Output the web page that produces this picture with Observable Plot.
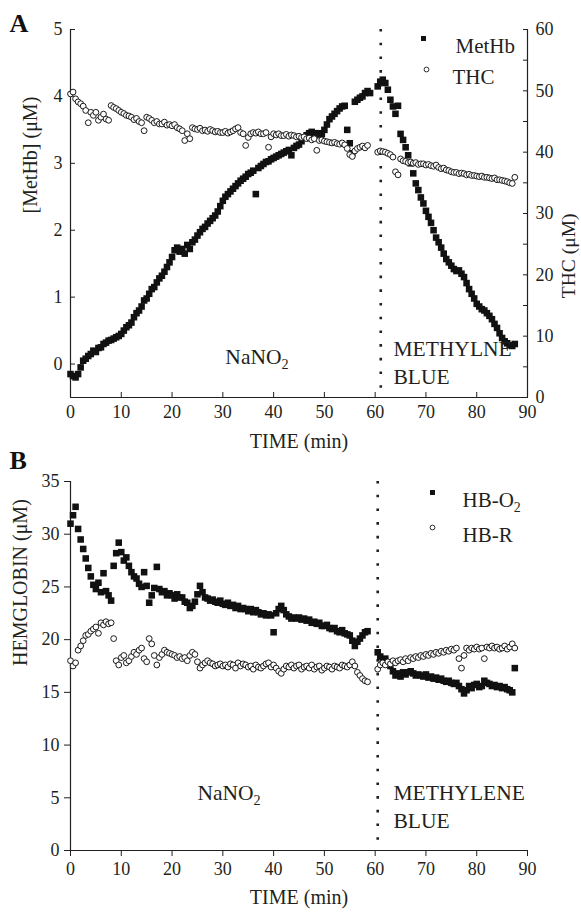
<!DOCTYPE html>
<html>
<head>
<meta charset="utf-8">
<script src="https://cdn.jsdelivr.net/npm/d3@7"></script>
<script src="https://cdn.jsdelivr.net/npm/@observablehq/plot@0.6"></script>
<style>
  html, body { margin: 0; padding: 0; background: #fff; }
  #root { position: relative; width: 581px; height: 914px; overflow: hidden; }
  .layer { position: absolute; left: 0; }
</style>
</head>
<body>
<div id="root"></div>
<script>
// ---------------- DATA ----------------
const STEP = 0.5;                 // sampling interval of the recordings (min)
const xTicks = [0, 10, 20, 30, 40, 50, 60, 70, 80, 90];
const metTicks = [0, 1, 2, 3, 4, 5];
const thcTicks = [0, 10, 20, 30, 40, 50, 60];
const thcMinorTicks = [5, 15, 25, 35, 45, 55];
const hbTicks = [0, 5, 10, 15, 20, 25, 30, 35];

const methyleneA = [61.1];        // time of methylene blue injection (panel A)
const methyleneB = [60.5];        // (panel B)

// Panel A — MetHb (µM), NaNO2 phase starting t=0, methylene blue phase starting t=60.5
const metHb1Start = 0;
const metHb1 = [
  -0.15,-0.18,-0.2,-0.15,-0.05,0.05,0.08,0.12,0.15,0.2,
  0.18,0.24,0.25,0.3,0.32,0.35,0.36,0.38,0.4,0.42,
  0.45,0.5,0.55,0.58,0.62,0.7,0.76,0.8,0.86,0.95,
  0.98,1.05,1.12,1.15,1.22,1.28,1.32,1.38,1.45,1.52,
  1.6,1.7,1.74,1.68,1.72,1.65,1.78,1.72,1.82,1.86,
  1.92,1.97,2.02,2.05,2.1,2.14,2.18,2.22,2.28,2.36,
  2.44,2.5,2.54,2.58,2.62,2.66,2.7,2.74,2.77,2.8,
  2.84,2.86,2.89,2.54,2.93,2.96,2.99,3.02,3.03,3.06,
  3.08,3.1,3.12,3.14,3.16,3.18,3.2,3.12,3.23,3.26,
  3.28,3.33,3.38,3.42,3.45,3.47,3.45,3.4,3.45,3.44,
  3.5,3.58,3.66,3.7,3.74,3.78,3.82,3.85,3.86,3.5,
  3.3,3.15,3.92,3.95,3.98,4.0,4.05,4.08,4.05
];
const metHb2Start = 60.5;
const metHb2 = [
  4.15,4.22,4.25,4.2,4.1,3.95,3.85,3.74,3.86,3.44,
  3.35,3.24,3.12,3.0,2.85,2.7,2.6,2.49,2.4,2.29,
  2.2,2.11,2.0,1.89,1.82,1.74,1.65,1.57,1.52,1.47,
  1.42,1.39,1.4,1.35,1.3,1.21,1.12,1.05,0.98,0.9,
  0.86,0.82,0.8,0.76,0.72,0.67,0.6,0.54,0.46,0.39,
  0.34,0.31,0.28,0.27,0.3
];

// Panel A — THC (µM), right axis
const thc1Start = 0;
const thc1 = [
  49.5,49.8,48.7,48.2,47.9,47.5,46.8,44.8,46.5,46.0,
  46.5,45.2,45.7,46.2,45.4,45.2,47.6,47.3,47.1,46.8,
  46.5,46.3,46.0,45.9,45.7,45.3,45.5,45.0,44.8,43.5,
  45.7,45.5,45.2,44.8,45.0,44.6,44.6,44.9,44.4,44.5,
  44.3,44.5,44.0,43.8,43.5,41.9,43.0,42.2,44.0,43.8,
  43.7,43.9,43.5,43.6,43.4,43.7,43.5,43.3,43.4,43.2,
  43.2,43.4,43.1,43.3,43.5,43.8,44.0,43.2,43.0,41.1,
  42.4,43.0,43.2,43.1,43.3,43.0,43.0,43.2,40.8,42.5,
  43.0,42.8,43.0,42.7,42.7,42.9,42.6,42.8,42.7,42.5,
  42.6,42.4,42.5,42.2,42.3,42.0,42.2,40.3,41.9,42.0,
  41.8,41.7,41.6,41.5,41.6,41.4,41.3,41.5,41.2,40.6,
  39.6,39.3,40.2,40.6,40.8,41.0,40.7,41.1
];
const thc2Start = 60.5;
const thc2 = [
  40.0,40.2,40.1,40.0,39.8,39.6,39.2,36.8,36.3,38.9,
  38.6,38.5,38.3,38.4,38.2,38.3,38.0,38.1,38.1,37.9,
  38.0,37.8,37.7,37.9,37.5,37.3,37.4,37.1,37.0,36.8,
  36.7,36.7,36.5,36.6,36.5,36.3,36.4,36.2,36.2,36.1,
  36.0,36.1,35.9,35.9,35.8,35.7,35.8,35.5,35.5,35.4,
  35.3,35.2,35.0,34.9,35.9
];

// Panel B — HB-O2 (µM)
const hbO2_1Start = 0;
const hbO2_1 = [
  31.0,31.8,32.6,30.5,29.5,28.6,27.7,26.8,26.0,25.2,
  24.8,25.4,24.5,26.3,24.6,24.2,23.7,27.0,28.2,29.2,
  28.3,27.5,27.8,27.0,26.4,26.0,25.8,25.3,25.0,26.4,
  25.1,23.5,24.2,24.9,26.9,24.8,24.5,24.6,24.2,24.4,
  24.2,23.9,24.3,24.0,24.0,23.6,23.5,23.0,23.2,23.6,
  24.3,25.1,24.5,24.0,23.9,23.7,23.8,23.6,23.5,23.7,
  23.4,23.3,23.5,23.2,23.3,23.0,23.2,22.9,23.0,22.9,
  22.7,22.9,22.6,22.8,22.6,22.4,22.5,22.3,22.4,22.3,
  20.7,22.5,22.9,23.2,22.8,22.4,22.2,22.0,22.1,22.0,
  22.1,21.9,22.0,21.8,21.9,21.6,21.7,21.5,21.6,21.3,
  21.3,21.4,21.1,21.0,21.1,20.8,20.7,20.9,20.6,20.5,
  20.4,19.9,19.4,19.8,20.1,20.4,20.7,20.8
];
const hbO2_2Start = 60.5;
const hbO2_2 = [
  18.8,18.4,18.0,18.2,17.8,17.5,17.0,16.6,16.8,16.5,
  16.9,16.7,16.9,17.0,16.8,16.6,16.7,16.6,16.5,16.7,
  16.4,16.5,16.3,16.4,16.2,16.3,16.1,16.0,16.1,15.9,
  15.8,15.9,15.6,15.3,14.9,15.2,15.6,15.4,15.7,15.8,
  15.5,15.6,16.1,15.9,15.8,15.6,15.7,15.5,15.6,15.4,
  15.5,15.3,15.2,15.0,17.3
];

// Panel B — HB-R (µM)
const hbR_1Start = 0;
const hbR_1 = [
  18.0,17.5,17.8,19.0,19.4,19.9,20.4,20.5,20.8,21.0,
  21.2,20.6,21.6,21.4,21.7,21.5,21.6,20.1,18.0,17.6,
  18.3,18.5,17.8,18.0,18.4,18.8,18.6,19.0,19.2,18.2,
  17.9,20.1,19.6,18.5,17.6,18.3,18.6,19.0,18.8,18.7,
  18.6,18.5,18.3,18.4,18.2,18.3,18.0,18.5,18.8,18.6,
  17.9,17.3,17.6,17.8,18.0,17.8,17.7,17.5,17.6,17.7,
  17.5,17.6,17.4,17.7,17.6,17.3,17.8,17.5,17.7,17.6,
  17.4,17.5,17.2,17.6,17.4,17.3,17.5,17.7,17.8,17.4,
  17.6,17.3,17.0,16.8,17.2,17.5,17.4,17.6,17.3,17.5,
  17.6,17.2,17.4,17.5,17.3,17.6,17.2,17.4,17.5,17.1,
  17.3,17.5,17.4,17.2,17.5,17.4,17.3,17.6,17.5,17.4,
  17.6,17.9,17.5,16.9,16.6,16.3,16.1,16.0
];
const hbR_2Start = 60.5;
const hbR_2 = [
  17.2,17.6,17.8,17.6,17.9,17.7,18.0,17.8,18.0,18.1,
  17.9,18.2,18.0,18.3,18.2,18.4,18.3,18.5,18.4,18.6,
  18.5,18.7,18.6,18.8,18.7,18.9,18.8,19.0,18.9,19.1,
  19.0,19.2,18.2,17.3,18.5,19.2,19.0,19.2,19.1,19.3,
  19.1,19.2,18.2,19.3,19.2,19.4,19.2,19.3,19.1,19.2,
  19.4,19.1,19.3,19.6,19.2
];

// Text content
const legendA = ["MetHb", "THC"];
const legendB = ["HB-O_2", "HB-R"];
const phaseLabelsA = [
  {t: 30.5, v: 0.0, label: "NaNO_2"},
  {t: 63.6, v: -0.3, label: "METHYLNE\nBLUE"}
];
const phaseLabelsB = [
  {t: 25.0, v: 4.75, label: "NaNO_2"},
  {t: 63.6, v: 2.1, label: "METHYLENE\nBLUE"}
];

// ---------------- BUILD ----------------
const rows = (start, values) => values.map((v, i) => ({t: start + i * STEP, v}));
const metRows = [...rows(metHb1Start, metHb1), ...rows(metHb2Start, metHb2)];
const thcRows = [...rows(thc1Start, thc1), ...rows(thc2Start, thc2)];
const o2Rows = [...rows(hbO2_1Start, hbO2_1), ...rows(hbO2_2Start, hbO2_2)];
const rRows = [...rows(hbR_1Start, hbR_1), ...rows(hbR_2Start, hbR_2)];

const FONT = "'Liberation Serif', 'Times New Roman', serif";
const INK = "#231f20";
const W = 581;
const M = {left: 70, right: 54};
const TICK_FS = 18;
const sq = {symbol: "square", r: 3.7, fill: "#111", stroke: "none"};
const ci = {r: 2.9, fill: "white", stroke: "#1a1a1a", strokeWidth: 1};
const sqLegend = {symbol: "square", r: 2.8, fill: "#111", stroke: "none"};
const ciLegend = {r: 2.4, fill: "white", stroke: "#1a1a1a", strokeWidth: 0.9};
const dotted = {stroke: INK, strokeWidth: 2.6, strokeDasharray: "2.6,11.1"};
const fmt = d => String(d);

function subscripts(svg) {
  svg.querySelectorAll("text").forEach(t => {
    if (t.childElementCount === 0 && t.textContent.includes("_2")) {
      const [a, b] = t.textContent.split("_2");
      t.textContent = a;
      const ts = document.createElementNS("http://www.w3.org/2000/svg", "tspan");
      ts.setAttribute("dy", "0.32em");
      ts.setAttribute("font-size", "0.66em");
      ts.textContent = "2";
      t.appendChild(ts);
      if (b) {
        const ts2 = document.createElementNS("http://www.w3.org/2000/svg", "tspan");
        ts2.setAttribute("dy", "-0.21em");
        ts2.textContent = b;
        t.appendChild(ts2);
      }
    }
  });
}

function place(svg, top) {
  svg.classList.add("layer");
  svg.style.top = top + "px";
  subscripts(svg);
  document.getElementById("root").appendChild(svg);
}

// ---- Panel A, MetHb (left scale) ----
const HA = 455;
const a1 = Plot.plot({
  width: W, height: HA, marginLeft: M.left, marginRight: M.right, marginTop: 29, marginBottom: 58,
  style: {fontFamily: FONT, fontSize: TICK_FS + "px", color: INK, background: "white", overflow: "visible"},
  x: {domain: [0, 90], axis: null},
  y: {domain: [-0.5, 5], axis: null},
  marks: [
    Plot.ruleX([0], {stroke: INK, strokeWidth: 1.2}),
    Plot.ruleY([-0.5], {stroke: INK, strokeWidth: 1.2}),
    Plot.axisX({ticks: xTicks, tickSize: -5, tickPadding: 13, tickFormat: fmt, label: null, fontSize: TICK_FS}),
    Plot.axisY({ticks: metTicks, tickSize: -5, tickPadding: 13, tickFormat: fmt, label: null, fontSize: TICK_FS}),
    Plot.ruleX(methyleneA, dotted),
    Plot.dot(metRows, {x: "t", y: "v", ...sq}),
    Plot.text(phaseLabelsA, {x: "t", y: "v", text: "label", textAnchor: "start", lineAnchor: "bottom", lineHeight: 1.3, fontSize: 21.5, fill: INK}),
    Plot.text(["[MetHb] (μM)"], {text: d => d, frameAnchor: "left", rotate: -90, dx: -40, fontSize: 20, fill: INK}),
    Plot.text(["TIME (min)"], {text: d => d, frameAnchor: "bottom", dy: 50, fontSize: 20, fill: INK}),
    Plot.text(["A"], {text: d => d, frameAnchor: "top-left", dx: -61, dy: -6, textAnchor: "start", lineAnchor: "middle", fontSize: 26, fontWeight: "bold", fill: "#111"})
  ]
});
place(a1, 0);

// ---- Panel A, THC (right scale) overlay ----
const a2 = Plot.plot({
  width: W, height: HA, marginLeft: M.left, marginRight: M.right, marginTop: 29, marginBottom: 58,
  style: {fontFamily: FONT, fontSize: TICK_FS + "px", color: INK, background: "transparent", overflow: "visible"},
  x: {domain: [0, 90], axis: null},
  y: {domain: [0, 60], axis: null},
  marks: [
    Plot.ruleX([90], {stroke: INK, strokeWidth: 1.2}),
    Plot.axisY({anchor: "right", ticks: thcTicks, tickSize: -5, tickPadding: 13, tickFormat: fmt, label: null, fontSize: TICK_FS}),
    Plot.axisY({anchor: "right", ticks: thcMinorTicks, tickSize: -5, tickFormat: () => "", label: null}),
    Plot.dot(thcRows, {x: "t", y: "v", ...ci}),
    Plot.text(["THC (μM)"], {text: d => d, frameAnchor: "right", rotate: -90, dx: 41, fontSize: 19.5, fill: INK}),
    Plot.dot(legendA.slice(0, 1), {frameAnchor: "top-left", dx: 353, dy: 9, ...sqLegend}),
    Plot.dot(legendA.slice(1, 2), {frameAnchor: "top-left", dx: 356, dy: 40, ...ciLegend}),
    Plot.text(legendA.slice(0, 1), {text: d => d, frameAnchor: "top-left", dx: 385, dy: 9, textAnchor: "start", fontSize: 21, fill: INK}),
    Plot.text(legendA.slice(1, 2), {text: d => d, frameAnchor: "top-left", dx: 382, dy: 40, textAnchor: "start", fontSize: 21, fill: INK})
  ]
});
place(a2, 0);

// ---- Panel B ----
const HB = 459;
const b = Plot.plot({
  width: W, height: HB, marginLeft: M.left, marginRight: M.right, marginTop: 26, marginBottom: 64,
  style: {fontFamily: FONT, fontSize: TICK_FS + "px", color: INK, background: "white", overflow: "visible"},
  x: {domain: [0, 90], axis: null},
  y: {domain: [0, 35], axis: null},
  marks: [
    Plot.ruleX([0], {stroke: INK, strokeWidth: 1.2}),
    Plot.ruleY([0], {stroke: INK, strokeWidth: 1.2}),
    Plot.axisX({ticks: xTicks, tickSize: 6, tickPadding: 6, tickFormat: fmt, label: null, fontSize: TICK_FS}),
    Plot.axisY({ticks: hbTicks, tickSize: 6, tickPadding: 5, tickFormat: fmt, label: null, fontSize: TICK_FS}),
    Plot.ruleX(methyleneB, dotted),
    Plot.dot(o2Rows, {x: "t", y: "v", ...sq}),
    Plot.dot(rRows, {x: "t", y: "v", ...ci}),
    Plot.text(phaseLabelsB, {x: "t", y: "v", text: "label", textAnchor: "start", lineAnchor: "bottom", lineHeight: 1.3, fontSize: 21.5, fill: INK}),
    Plot.text(["HEMGLOBIN (μM)"], {text: d => d, frameAnchor: "left", rotate: -90, dx: -50, fontSize: 20, fill: INK}),
    Plot.text(["TIME (min)"], {text: d => d, frameAnchor: "bottom", dy: 53, fontSize: 20, fill: INK}),
    Plot.text(["B"], {text: d => d, frameAnchor: "top-left", dx: -61, dy: -21, textAnchor: "start", lineAnchor: "middle", fontSize: 26, fontWeight: "bold", fill: "#111"}),
    Plot.dot(legendB.slice(0, 1), {frameAnchor: "top-left", dx: 362, dy: 11, ...sqLegend}),
    Plot.dot(legendB.slice(1, 2), {frameAnchor: "top-left", dx: 362, dy: 46, ...ciLegend}),
    Plot.text(legendB.slice(0, 1), {text: d => d, frameAnchor: "top-left", dx: 392, dy: 11, textAnchor: "start", fontSize: 21, fill: INK}),
    Plot.text(legendB.slice(1, 2), {text: d => d, frameAnchor: "top-left", dx: 392, dy: 46, textAnchor: "start", fontSize: 21, fill: INK})
  ]
});
place(b, HA);
</script>
</body>
</html>
